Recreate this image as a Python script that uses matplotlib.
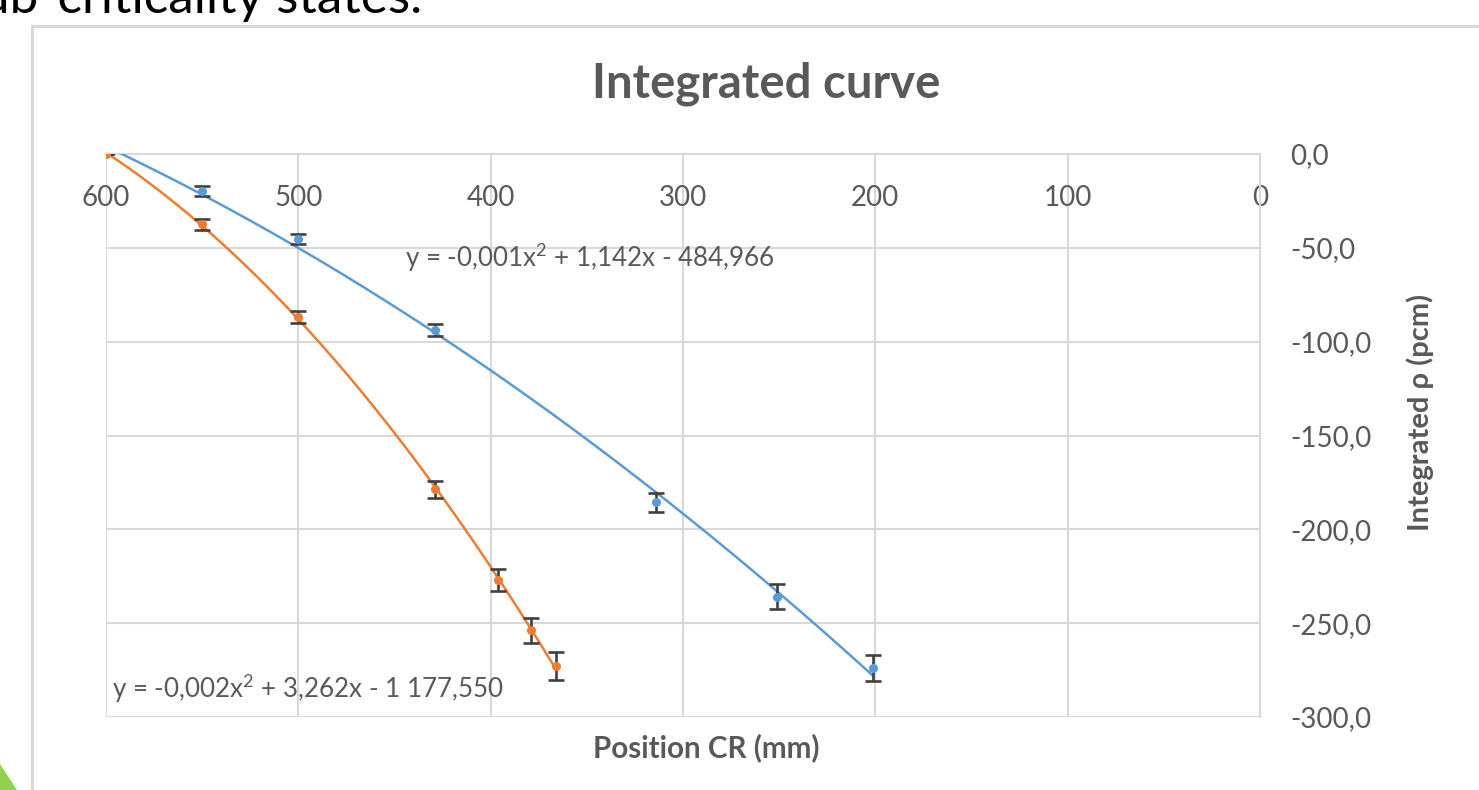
import numpy as np
import matplotlib
matplotlib.use("Agg")
import matplotlib.pyplot as plt
from matplotlib.patches import Rectangle, Polygon

# ---- data ----
x_ticks = [600, 500, 400, 300, 200, 100, 0]
y_ticks = [0, -50, -100, -150, -200, -250, -300]
y_tick_labels = ["0,0", "-50,0", "-100,0", "-150,0", "-200,0", "-250,0", "-300,0"]

blue_x = [600, 550, 500, 429, 314, 251, 201]
blue_y = [0.0, -19.7, -45.5, -93.8, -185.7, -236.0, -273.8]
blue_err = [0.0, 2.9, 2.7, 3.4, 4.8, 6.7, 7.1]

orange_x = [600, 550, 500, 429, 396, 379, 366]
orange_y = [0.0, -37.5, -87.0, -178.7, -227.0, -253.7, -273.0]
orange_err = [0.0, 3.1, 3.1, 4.7, 6.0, 6.7, 7.5]

title = "Integrated curve"
x_label = "Position CR (mm)"
y_label = "Integrated ρ (pcm)"
eq_blue = "y = -0,001x$^{2}$ + 1,142x - 484,966"
eq_orange = "y = -0,002x$^{2}$ + 3,262x - 1 177,550"
slide_text = "ub-criticality states."

BLUE = "#5B9BD5"
ORANGE = "#ED7D31"
GRID = "#D9D9D9"
TXT = "#595959"
ERR = "#404040"

plt.rcParams['font.family'] = ['Lato', 'DejaVu Sans']
plt.rcParams['mathtext.fontset'] = 'custom'
plt.rcParams['mathtext.rm'] = 'Lato'
plt.rcParams['mathtext.it'] = 'Lato'
plt.rcParams['mathtext.default'] = 'rm'

W, H = 1479, 790
fig = plt.figure(figsize=(W / 100, H / 100), dpi=100)

def fx(px):
    return px / W

def fy(py):
    return 1 - py / H

# slide background elements
fig.patches.append(Rectangle((fx(32), -0.1), 2, fy(26) + 0.1, transform=fig.transFigure,
                             fill=False, edgecolor=GRID, lw=2.2, zorder=0))
fig.patches.append(Polygon([(fx(0), fy(764)), (fx(17), fy(790)), (fx(0), fy(790))],
                           closed=True, transform=fig.transFigure, facecolor="#92D050",
                           edgecolor="none", zorder=0))
fig.text(fx(422), fy(13), slide_text, fontsize=37, color="black", va="baseline", ha="right")

ax = fig.add_axes([fx(106), fy(717), fx(1260) - fx(106), fy(154) - fy(717)])
ax.set_xlim(600, 0)
ax.set_ylim(-300, 0)
ax.set_xticks(x_ticks)
ax.set_xticklabels([str(v) for v in x_ticks])
ax.set_yticks(y_ticks)
ax.set_yticklabels(y_tick_labels)

for s in ['top', 'left']:
    ax.spines[s].set_visible(False)
ax.spines['bottom'].set_position(('data', 0))
ax.spines['bottom'].set_color(GRID)
ax.spines['bottom'].set_linewidth(1.5)
ax.spines['right'].set_color(GRID)
ax.spines['right'].set_linewidth(1.5)

ax.grid(True, color=GRID, lw=1.5, zorder=0)
ax.set_axisbelow(True)

ax.yaxis.tick_right()
ax.tick_params(axis='x', length=0, pad=22.5, labelsize=20, labelcolor=TXT)
ax.tick_params(axis='y', length=0, pad=22, labelsize=20, labelcolor=TXT)

# trendlines (2nd order polynomial fits)
for xs, ys, col in [(blue_x, blue_y, BLUE), (orange_x, orange_y, ORANGE)]:
    c = np.polyfit(xs, ys, 2)
    xx = np.linspace(min(xs), max(xs), 200)
    ax.plot(xx, np.polyval(c, xx), color=col, lw=1.8, zorder=3)

# error bars + markers
for xs, ys, es, col in [(blue_x, blue_y, blue_err, BLUE), (orange_x, orange_y, orange_err, ORANGE)]:
    ax.errorbar(xs, ys, yerr=es, fmt='none', ecolor=ERR, elinewidth=1.9, capsize=5.5,
                capthick=1.9, zorder=4)
    ax.plot(xs, ys, 'o', color=col, ms=5.5, mec=col, zorder=5)

# equation labels placed in axes-fraction coordinates (pixel positions from reference)
def ax_frac(px, py):
    return ((px - 106) / (1260 - 106), (717 - py) / (717 - 154))

bx, by = ax_frac(405, 267)
ax.text(bx, by, eq_blue, fontsize=18.7, color=TXT, va='baseline', ha='left',
        transform=ax.transAxes, zorder=6)
ox, oy = ax_frac(112, 698)
ax.text(ox, oy, eq_orange, fontsize=18.7, color=TXT, va='baseline', ha='left',
        transform=ax.transAxes, zorder=6)

fig.text(fx(766), fy(97), title, fontsize=34, fontweight='bold', color=TXT,
         ha='center', va='baseline')
fig.text(fx(706), fy(748), x_label, fontsize=21.3, fontweight='bold', color=TXT,
         ha='center', va='center')
fig.text(fx(1420), fy(412), y_label, fontsize=21, fontweight='bold', color=TXT,
         ha='center', va='center', rotation=90)

fig.savefig("out.png", dpi=100)
